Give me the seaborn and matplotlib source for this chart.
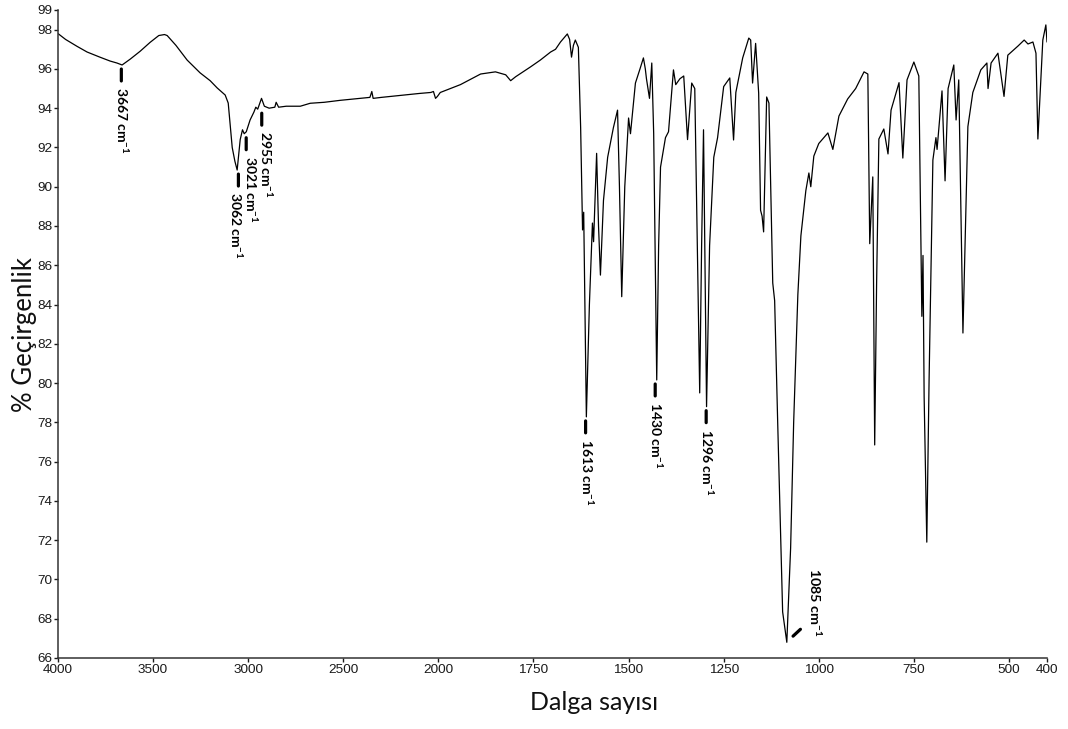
import numpy as np
import pandas as pd
import matplotlib
matplotlib.use("Agg")
import matplotlib.pyplot as plt
from matplotlib.transforms import offset_copy
import seaborn as sns

# ---------------- data ----------------
wavenumber = [
    4000, 3960, 3900, 3847, 3780, 3726, 3690, 3663, 3620, 3568, 3516, 3470, 3440, 3426,
    3380, 3321, 3253, 3200, 3163, 3121, 3105, 3095, 3084, 3070, 3058, 3050, 3042, 3030,
    3021, 3010, 2990, 2970, 2960, 2950, 2930, 2915, 2890, 2860, 2853, 2840, 2800, 2726,
    2674, 2600, 2516, 2411, 2360, 2350, 2343, 2300, 2200, 2100, 2040, 2026, 2015, 2005,
    1995, 1942, 1889, 1850, 1823, 1810, 1797, 1758, 1732, 1705, 1692, 1679, 1661, 1655,
    1650, 1645, 1640, 1632, 1626, 1621, 1618, 1611, 1603, 1595, 1592, 1584, 1579, 1574,
    1566, 1555, 1540, 1529, 1524, 1518, 1510, 1500, 1495, 1487, 1482, 1470, 1461, 1456,
    1453, 1445, 1439, 1434, 1426, 1421, 1416, 1403, 1395, 1382, 1376, 1365, 1355, 1345,
    1334, 1326, 1313, 1308, 1303, 1295, 1287, 1276, 1266, 1250, 1234, 1224, 1218, 1200,
    1184, 1179, 1174, 1166, 1158, 1153, 1149, 1145, 1137, 1131, 1121, 1116, 1108, 1095,
    1084, 1074, 1066, 1055, 1047, 1034, 1026, 1021, 1013, 1000, 976, 963, 947, 924,
    903, 881, 871, 866, 858, 853, 848, 842, 829, 818, 810, 789, 779, 768,
    750, 737, 729, 726, 723, 716, 710, 700, 692, 689, 676, 668, 660, 645,
    639, 632, 621, 608, 595, 574, 558, 555, 547, 529, 513, 503, 476, 460,
    450, 437, 429, 424, 411, 403, 400,
]
transmittance = [
    97.80, 97.50, 97.15, 96.86, 96.60, 96.40, 96.30, 96.20, 96.50, 96.90, 97.35, 97.70, 97.75, 97.70,
    97.20, 96.45, 95.80, 95.40, 95.03, 94.67, 94.26, 93.20, 92.00, 91.30, 90.85, 91.60, 92.40, 92.90,
    92.70, 92.80, 93.40, 93.80, 94.05, 93.95, 94.50, 94.10, 94.00, 94.05, 94.30, 94.05, 94.10, 94.10,
    94.25, 94.30, 94.40, 94.50, 94.55, 94.85, 94.50, 94.55, 94.65, 94.75, 94.80, 94.85, 94.50, 94.60,
    94.80, 95.20, 95.74, 95.85, 95.70, 95.40, 95.60, 96.10, 96.45, 96.86, 97.00, 97.37, 97.78, 97.50,
    96.60, 97.20, 97.47, 97.10, 93.00, 87.80, 88.70, 78.28, 84.00, 88.15, 87.20, 91.70, 88.00, 85.50,
    89.30, 91.50, 93.00, 93.90, 90.00, 84.40, 90.00, 93.50, 92.70, 94.26, 95.28, 96.00, 96.56, 96.00,
    95.50, 94.50, 96.30, 92.70, 80.16, 87.00, 91.00, 92.50, 92.80, 95.95, 95.20, 95.50, 95.64, 92.40,
    95.28, 95.00, 79.50, 87.00, 92.90, 78.80, 87.00, 91.50, 92.50, 95.10, 95.54, 92.38, 94.80, 96.56,
    97.57, 97.47, 95.28, 97.30, 94.77, 88.80, 88.50, 87.70, 94.57, 94.26, 85.10, 84.20, 78.00, 68.35,
    66.80, 71.60, 78.00, 84.50, 87.50, 89.80, 90.70, 90.00, 91.56, 92.20, 92.74, 91.90, 93.60, 94.47,
    95.00, 95.85, 95.74, 87.10, 90.50, 76.85, 85.00, 92.43, 92.94, 91.67, 93.90, 95.30, 91.46, 95.44,
    96.35, 95.64, 83.40, 86.50, 79.30, 71.90, 80.16, 91.36, 92.50, 91.90, 94.88, 90.30, 95.00, 96.20,
    93.40, 95.44, 82.55, 93.06, 94.80, 95.95, 96.30, 95.00, 96.30, 96.80, 94.60, 96.70, 97.17, 97.47,
    97.27, 97.37, 96.80, 92.43, 97.47, 98.24, 97.37,
]

peak_wavenumbers = [3667, 3062, 3021, 2955, 1613, 1430, 1296, 1085]
peak_labels = ["3667", "3062", "3021", "2955", "1613", "1430", "1296", "1085"]

x_ticks = [4000, 3500, 3000, 2500, 2000, 1750, 1500, 1250, 1000, 750, 500, 400]
y_ticks = [66, 68, 70, 72, 74, 76, 78, 80, 82, 84, 86, 88, 90, 92, 94, 96, 98, 99]

x_label = "Dalga sayısı"
y_label = "% Geçirgenlik"

# ---------------- styling ----------------
sns.set_theme(style="ticks")
plt.rcParams["font.family"] = ["Liberation Sans", "DejaVu Sans"]
plt.rcParams["mathtext.fontset"] = "custom"
plt.rcParams["mathtext.rm"] = "Lato:bold"
plt.rcParams["mathtext.bf"] = "Lato:bold"
plt.rcParams["mathtext.default"] = "bf"

df = pd.DataFrame({"wavenumber": wavenumber, "T": transmittance})

fig = plt.figure(figsize=(10.68, 7.29), dpi=100)
ax = fig.add_axes([58 / 1068, 1 - 658 / 729, 989 / 1068, 648 / 729])


# FTIR-style axis: half scale above 2000 cm-1
def fwd(x):
    x = np.asarray(x, dtype=float)
    return np.where(x > 2000, 2000 + (x - 2000) / 2.0, x)


def inv(u):
    u = np.asarray(u, dtype=float)
    return np.where(u > 2000, 2000 + (u - 2000) * 2.0, u)


ax.set_xscale("function", functions=(fwd, inv))

sns.lineplot(data=df, x="wavenumber", y="T", ax=ax, color="black", lw=0.9,
             estimator=None, sort=False)

ax.set_xlim(4000, 400)
ax.set_ylim(66, 99)
ax.set_xticks(x_ticks)
ax.set_xticklabels([str(v) for v in x_ticks])
ax.set_yticks(y_ticks)
ax.set_yticklabels([str(v) for v in y_ticks])
ax.minorticks_off()
ax.tick_params(direction="out", length=3, width=1, pad=1.2, labelsize=9.7,
               colors="#1a1a1a")
for s in ["left", "bottom"]:
    ax.spines[s].set_linewidth(1.1)
    ax.spines[s].set_color("#333333")
sns.despine(ax=ax)
ax.grid(False)

ax.set_xlabel(x_label, fontsize=18, family="Lato", color="#111111")
ax.set_ylabel(y_label, fontsize=18.5, family="Lato", color="#111111")
ax.xaxis.set_label_coords(0.542, -0.051)
ax.yaxis.set_label_coords(-0.021, 0.5)

# ---------------- peak annotations ----------------
wn_arr = np.array(wavenumber, dtype=float)
t_arr = np.array(transmittance, dtype=float)

# horizontal nudges (pixels) of dash / label so crowded labels do not collide
nudge = {"3062": (2, 0), "3021": (2, 7), "2955": (5, 9)}
ann_size = 10

for wn, lab in zip(peak_wavenumbers, peak_labels):
    win = np.abs(wn_arr - wn) <= 6
    tmin = t_arr[win].min()
    text = lab + r" cm$^{-1}$"
    if lab == "1085":
        ax.annotate("", xy=(wn, tmin), xycoords="data",
                    xytext=(14, 13), textcoords="offset pixels",
                    arrowprops=dict(arrowstyle="-", lw=2.3, color="black",
                                    shrinkA=0, shrinkB=6.5))
        ax.annotate(text, xy=(wn, tmin), xycoords="data",
                    xytext=(29, 74), textcoords="offset pixels",
                    rotation=270, ha="center", va="top",
                    fontsize=ann_size + 0.3, fontweight="bold", family="Lato",
                    color="black")
    else:
        ddx, tdx = nudge.get(lab, (0, 1))
        dash_tr = offset_copy(ax.transData, fig=fig, x=ddx, y=0, units="dots")
        ax.annotate("", xy=(wn, tmin), xycoords=dash_tr,
                    xytext=(0, -16), textcoords="offset pixels",
                    arrowprops=dict(arrowstyle="-", lw=2.3, color="black",
                                    shrinkA=0, shrinkB=2.9))
        ax.annotate(text, xy=(wn, tmin), xycoords="data",
                    xytext=(tdx, -22), textcoords="offset pixels",
                    rotation=270, ha="center", va="top",
                    fontsize=ann_size, fontweight="bold", family="Lato",
                    color="black")

fig.savefig("out.png", dpi=100)
